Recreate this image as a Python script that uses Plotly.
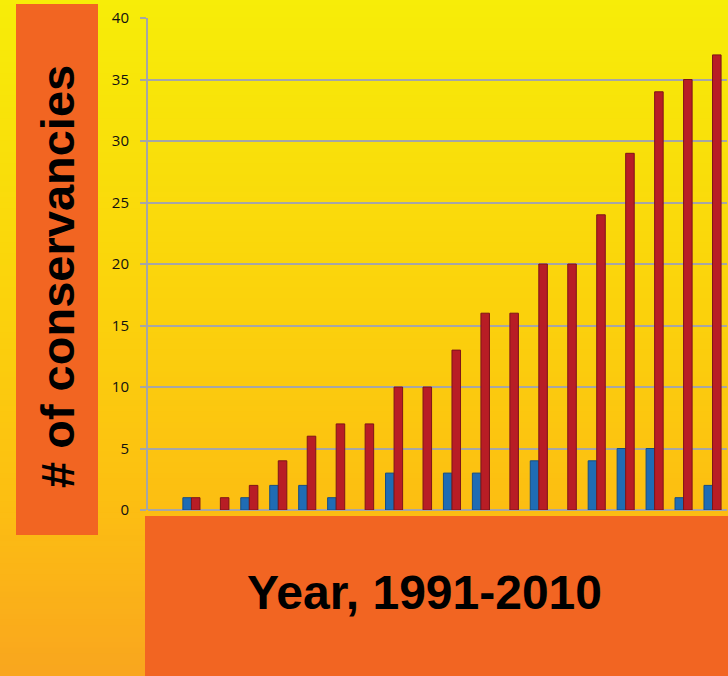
import plotly.graph_objects as go

years = list(range(1991, 2011))
new_conservancies = [0, 1, 0, 1, 2, 2, 1, 0, 3, 0, 3, 3, 0, 4, 0, 4, 5, 5, 1, 2]
total_conservancies = [0, 1, 1, 2, 4, 6, 7, 7, 10, 10, 13, 16, 16, 20, 20, 24, 29, 34, 35, 37]
y_ticks = [0, 5, 10, 15, 20, 25, 30, 35, 40]

W, H = 728, 676
L, R, T, B = 148, 727, 18, 510  # plot area in pixels


def px(x):
    return (x - L) / (R - L)


def py(y):
    return (B - y) / (B - T)


def lerp(c1, c2, t):
    return tuple(round(a + (b - a) * t) for a, b in zip(c1, c2))


stops = [(0.0, (247, 237, 8)), (0.45, (251, 210, 12)), (0.75, (252, 190, 18)), (1.0, (249, 166, 30))]


def grad(t):
    for (t0, c0), (t1, c1) in zip(stops, stops[1:]):
        if t <= t1:
            return lerp(c0, c1, (t - t0) / (t1 - t0))
    return stops[-1][1]


shapes = []
N = 120
for i in range(N):
    y0 = H * i / N
    y1 = H * (i + 1) / N + 1
    c = grad(i / (N - 1))
    shapes.append(dict(type="rect", xref="paper", yref="paper", layer="below",
                       x0=px(-2), x1=px(W + 2), y0=py(y1), y1=py(y0),
                       fillcolor="rgb(%d,%d,%d)" % c, line=dict(width=0)))

orange = "#F26522"
shapes.append(dict(type="rect", xref="paper", yref="paper", layer="below",
                   x0=px(16), x1=px(98), y0=py(535), y1=py(4),
                   fillcolor=orange, line=dict(width=0)))
shapes.append(dict(type="rect", xref="paper", yref="paper", layer="below",
                   x0=px(145), x1=px(W + 2), y0=py(H + 2), y1=py(516),
                   fillcolor=orange, line=dict(width=0)))


def line_widths(vals):
    return [0 if v == 0 else 1 for v in vals]


fig = go.Figure()
fig.add_trace(go.Bar(x=years, y=new_conservancies, name="New",
                     marker=dict(color="#1F6CB4",
                                 line=dict(color="#154E86", width=line_widths(new_conservancies)))))
fig.add_trace(go.Bar(x=years, y=total_conservancies, name="Total",
                     marker=dict(color="#B81D25",
                                 line=dict(color="#7E1418", width=line_widths(total_conservancies)))))

annotations = [
    dict(text="<b># of conservancies</b>", xref="paper", yref="paper",
         x=px(57), y=py(277), xanchor="center", yanchor="middle",
         textangle=-90, showarrow=False,
         font=dict(family="Liberation Sans, Arial", size=47, color="#000000")),
    dict(text="<b>Year, 1991-2010</b>", xref="paper", yref="paper",
         x=px(424), y=py(592), xanchor="center", yanchor="middle", showarrow=False,
         font=dict(family="Liberation Sans, Arial", size=48, color="#000000")),
]

fig.update_layout(
    width=W, height=H,
    margin=dict(l=L, r=W - R, t=T, b=H - B, pad=0),
    paper_bgcolor="rgba(0,0,0,0)", plot_bgcolor="rgba(0,0,0,0)",
    barmode="group", bargap=0.41, bargroupgap=0.0,
    showlegend=False,
    shapes=shapes, annotations=annotations,
    xaxis=dict(showticklabels=False, showgrid=False, zeroline=False,
               showline=False, ticks="", range=[1990.5, 2010.5]),
    yaxis=dict(range=[0, 40], tickvals=y_ticks, showgrid=True,
               gridcolor="#A6A6A6", gridwidth=2, zeroline=True,
               zerolinecolor="#A6A6A6", zerolinewidth=2,
               showline=True, linecolor="#A6A6A6", linewidth=2,
               ticks="outside", ticklen=6, tickcolor="#A6A6A6", tickwidth=2,
               ticklabelstandoff=8,
               tickfont=dict(family="Open Sans, Lato", size=15, color="#111111")),
)

fig.write_html("out.html")
